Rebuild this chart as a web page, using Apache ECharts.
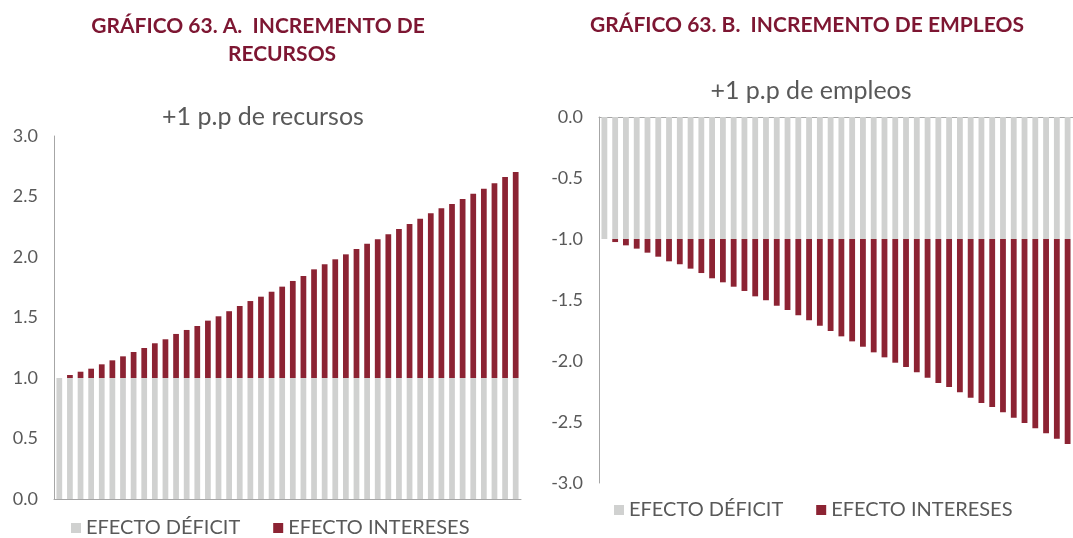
<!DOCTYPE html>
<html>
<head>
<meta charset="utf-8">
<script src="https://cdn.jsdelivr.net/npm/echarts@6/dist/echarts.min.js"></script>
<style>
  html, body { margin: 0; padding: 0; background: #ffffff; }
  #chart { width: 1073px; height: 538px; }
</style>
</head>
<body>
<div id="chart"></div>
<script>
// Years of the simulation horizon (44 periods)
const periods = ['1','2','3','4','5','6','7','8','9','10','11','12','13','14','15','16','17','18','19','20','21','22',
                 '23','24','25','26','27','28','29','30','31','32','33','34','35','36','37','38','39','40','41','42','43','44'];

// Panel A: +1 p.p. of resources
const deficitA = [1,1,1,1,1,1,1,1,1,1,1,1,1,1,1,1,1,1,1,1,1,1,
                  1,1,1,1,1,1,1,1,1,1,1,1,1,1,1,1,1,1,1,1,1,1];
const interestA = [0.000,0.025,0.052,0.077,0.113,0.146,0.179,0.215,0.248,0.287,0.320,0.364,0.397,0.430,0.474,0.510,
                   0.552,0.595,0.636,0.672,0.713,0.755,0.802,0.843,0.898,0.940,0.981,1.022,1.066,1.110,1.147,1.188,
                   1.231,1.273,1.317,1.361,1.402,1.438,1.479,1.523,1.564,1.609,1.661,1.702];

// Panel B: +1 p.p. of spending
const deficitB = [-1,-1,-1,-1,-1,-1,-1,-1,-1,-1,-1,-1,-1,-1,-1,-1,-1,-1,-1,-1,-1,-1,
                  -1,-1,-1,-1,-1,-1,-1,-1,-1,-1,-1,-1,-1,-1,-1,-1,-1,-1,-1,-1,-1,-1];
const interestB = [0.000,-0.025,-0.052,-0.079,-0.112,-0.145,-0.183,-0.207,-0.243,-0.279,-0.322,-0.355,-0.391,-0.426,
                   -0.470,-0.502,-0.547,-0.582,-0.625,-0.666,-0.711,-0.754,-0.798,-0.839,-0.883,-0.929,-0.970,-1.014,
                   -1.049,-1.093,-1.137,-1.180,-1.213,-1.257,-1.301,-1.344,-1.377,-1.421,-1.465,-1.508,-1.552,-1.593,
                   -1.637,-1.680];

const seriesNames = ['EFECTO DÉFICIT', 'EFECTO INTERESES'];
const GREY = '#D0D1D0';
const RED = '#8C2333';
const TEXT = '#595959';
const TITLE = '#7D1632';
const AXIS = '#A6A6A6';
const FONT = 'Lato, "Noto Sans", sans-serif';

const chart = echarts.init(document.getElementById('chart'), null, { renderer: 'canvas' });

function valueAxis(gridIndex, min, max) {
  return {
    type: 'value', gridIndex, min, max, interval: 0.5,
    axisLine: { show: true, lineStyle: { color: AXIS, width: 1 } },
    axisTick: { show: false },
    splitLine: { show: false },
    axisLabel: {
      color: TEXT, fontFamily: FONT, fontSize: 18, margin: 16,
      formatter: v => v.toFixed(1)
    }
  };
}

function catAxis(gridIndex) {
  return {
    type: 'category', gridIndex, data: periods,
    axisLine: { show: true, onZero: true, lineStyle: { color: AXIS, width: 1 } },
    axisTick: { show: false },
    axisLabel: { show: false }
  };
}

function barSeries(name, data, idx, stack, color) {
  return {
    name, type: 'bar', data, stack,
    xAxisIndex: idx, yAxisIndex: idx,
    barCategoryGap: '46%',
    itemStyle: { color },
    emphasis: { disabled: true },
    animation: false
  };
}

const legendBase = {
  icon: 'rect', itemWidth: 10, itemHeight: 10, itemGap: 33,
  textStyle: { color: TEXT, fontFamily: FONT, fontSize: 20 },
  data: seriesNames
};

chart.setOption({
  backgroundColor: '#ffffff',
  animation: false,
  grid: [
    { left: 54, top: 136, width: 467, height: 363 },
    { left: 599, top: 117, width: 477, height: 366 }
  ],
  xAxis: [catAxis(0), catAxis(1)],
  yAxis: [valueAxis(0, 0, 3), valueAxis(1, -3, 0)],
  legend: [
    Object.assign({ left: 66, top: 513 }, legendBase),
    Object.assign({ left: 609, top: 495 }, legendBase)
  ],
  graphic: [
    { type: 'text', x: 258, y: 26, style: { text: 'GRÁFICO 63. A.  INCREMENTO DE', fill: TITLE, font: 'bold 21px ' + FONT, textAlign: 'center', textVerticalAlign: 'middle' } },
    { type: 'text', x: 282, y: 54, style: { text: 'RECURSOS', fill: TITLE, font: 'bold 21px ' + FONT, textAlign: 'center', textVerticalAlign: 'middle' } },
    { type: 'text', x: 807, y: 25, style: { text: 'GRÁFICO 63. B.  INCREMENTO DE EMPLEOS', fill: TITLE, font: 'bold 21px ' + FONT, textAlign: 'center', textVerticalAlign: 'middle' } },
    { type: 'text', x: 263, y: 117, style: { text: '+1 p.p de recursos', fill: TEXT, font: '25px ' + FONT, textAlign: 'center', textVerticalAlign: 'middle' } },
    { type: 'text', x: 811, y: 91, style: { text: '+1 p.p de empleos', fill: TEXT, font: '25px ' + FONT, textAlign: 'center', textVerticalAlign: 'middle' } }
  ],
  series: [
    barSeries(seriesNames[0], deficitA, 0, 'A', GREY),
    barSeries(seriesNames[1], interestA, 0, 'A', RED),
    barSeries(seriesNames[0], deficitB, 1, 'B', GREY),
    barSeries(seriesNames[1], interestB, 1, 'B', RED)
  ]
});
</script>
</body>
</html>
